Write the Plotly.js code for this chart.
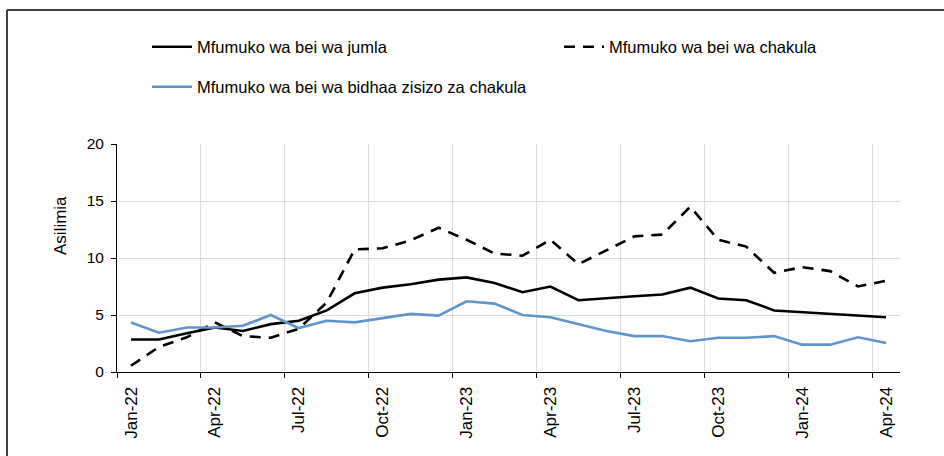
<!DOCTYPE html>
<html>
<head>
<meta charset="utf-8">
<script src="https://cdn.plot.ly/plotly-3.0.1.min.js"></script>
<style>html,body{margin:0;padding:0;background:#fff;}#chart{width:944px;height:456px;}</style>
</head>
<body>
<div id="chart"></div>
<script>
const categories = ["Jan-22","Feb-22","Mar-22","Apr-22","May-22","Jun-22","Jul-22","Aug-22","Sep-22","Oct-22","Nov-22","Dec-22",
  "Jan-23","Feb-23","Mar-23","Apr-23","May-23","Jun-23","Jul-23","Aug-23","Sep-23","Oct-23","Nov-23","Dec-23",
  "Jan-24","Feb-24","Mar-24","Apr-24"];
const jumla   = [2.85, 2.85, 3.4, 3.9, 3.6, 4.2, 4.5, 5.4, 6.9, 7.4, 7.7, 8.1, 8.3, 7.8, 7.0, 7.5, 6.3, 6.5, 6.65, 6.8, 7.4, 6.45, 6.3, 5.4, 5.25, 5.1, 4.95, 4.8];
const chakula = [0.55, 2.2, 3.05, 4.35, 3.15, 3.0, 3.8, 6.1, 10.75, 10.85, 11.55, 12.65, 11.6, 10.4, 10.2, 11.6, 9.45, 10.7, 11.9, 12.05, 14.5, 11.6, 11.0, 8.7, 9.2, 8.85, 7.5, 8.0];
const bidhaa  = [4.35, 3.45, 3.9, 3.9, 4.05, 5.0, 3.85, 4.5, 4.35, 4.75, 5.1, 4.95, 6.2, 6.0, 5.0, 4.8, 4.2, 3.6, 3.15, 3.15, 2.7, 3.0, 3.0, 3.15, 2.4, 2.4, 3.05, 2.55];
const seriesNames = ["Mfumuko wa bei wa jumla", "Mfumuko wa bei wa chakula", "Mfumuko wa bei wa bidhaa zisizo za chakula"];
const yTitle = "Asilimia";

const idx = categories.map((c, i) => i);
const labelVals = idx.filter(i => i % 3 === 0);
const labelText = labelVals.map(i => categories[i]);
const boundaryVals = labelVals.map(i => i - 0.5);

const FONT = "Liberation Sans, Arial, Helvetica, sans-serif";
const W = 944, H = 456;
const M = {l: 117, r: 44, t: 144, b: 84};
const PW = W - M.l - M.r, PH = H - M.t - M.b;

const traces = [
  {x: idx, y: jumla, mode: "lines", name: seriesNames[0], line: {color: "#000000", width: 2.6}, legend: "legend"},
  {x: idx, y: chakula, mode: "lines", name: seriesNames[1], line: {color: "#000000", width: 2.6, dash: "11px,8px"}, legend: "legend2"},
  {x: idx, y: bidhaa, mode: "lines", name: seriesNames[2], line: {color: "#5f95cd", width: 2.6}, legend: "legend3"},
  {x: [], y: [], xaxis: "x2", yaxis: "y", showlegend: false, hoverinfo: "skip"}
];

const legendBase = {
  xref: "container", yref: "container", xanchor: "left", yanchor: "middle",
  bgcolor: "rgba(0,0,0,0)", borderwidth: 0, itemwidth: 40,
  font: {family: FONT, size: 16.5, color: "#000"}
};

const layout = {
  width: W, height: H,
  margin: {l: M.l, r: M.r, t: M.t, b: M.b, pad: 0, autoexpand: false},
  paper_bgcolor: "#fff", plot_bgcolor: "#fff",
  font: {family: FONT, size: 14, color: "#000"},
  showlegend: true,
  legend: Object.assign({}, legendBase, {x: 147 / W, y: 1 - 47 / H}),
  legend2: Object.assign({}, legendBase, {x: 559 / W, y: 1 - 47 / H}),
  legend3: Object.assign({}, legendBase, {x: 147 / W, y: 1 - 87 / H}),
  xaxis: {
    range: [-0.5, categories.length - 0.5], tickmode: "array", tickvals: labelVals, ticktext: labelText,
    tickangle: -90, showgrid: false, zeroline: false, ticks: "", showline: true, linecolor: "#000", linewidth: 1,
    tickfont: {family: FONT, size: 17, color: "#000"}, ticklabelstandoff: 7, fixedrange: true
  },
  xaxis2: {
    overlaying: "x", anchor: "y", range: [-0.5, categories.length - 0.5], tickmode: "array", tickvals: boundaryVals,
    showticklabels: false, showgrid: true, gridcolor: "#dcdcdc", gridwidth: 1, zeroline: false,
    ticks: "outside", ticklen: 5, tickcolor: "#000", showline: false, fixedrange: true
  },
  yaxis: {
    range: [0, 20], tickmode: "linear", tick0: 0, dtick: 5, showgrid: true, gridcolor: "#dcdcdc", gridwidth: 1,
    zeroline: false, showline: true, linecolor: "#000", linewidth: 1, ticks: "outside", ticklen: 5, tickcolor: "#000",
    tickfont: {family: FONT, size: 15.5, color: "#000"}, ticklabelstandoff: 4, fixedrange: true
  },
  annotations: [
    {text: yTitle, xref: "paper", yref: "paper", x: (60 - M.l) / PW, y: (H - M.b - 226) / PH, textangle: -90, showarrow: false,
     xanchor: "center", yanchor: "middle", font: {family: FONT, size: 17, color: "#000"}}
  ],
  shapes: [
    {type: "line", xref: "paper", yref: "paper", x0: (7 - M.l) / PW, x1: (W + 5 - M.l) / PW,
     y0: (H - M.b - 10) / PH, y1: (H - M.b - 10) / PH, line: {color: "#404040", width: 2}},
    {type: "line", xref: "paper", yref: "paper", x0: (7 - M.l) / PW, x1: (7 - M.l) / PW,
     y0: (H - M.b - 10) / PH, y1: -M.b / PH - 0.05, line: {color: "#404040", width: 2}}
  ]
};

Plotly.newPlot("chart", traces, layout, {displayModeBar: false, staticPlot: true});
</script>
</body>
</html>
